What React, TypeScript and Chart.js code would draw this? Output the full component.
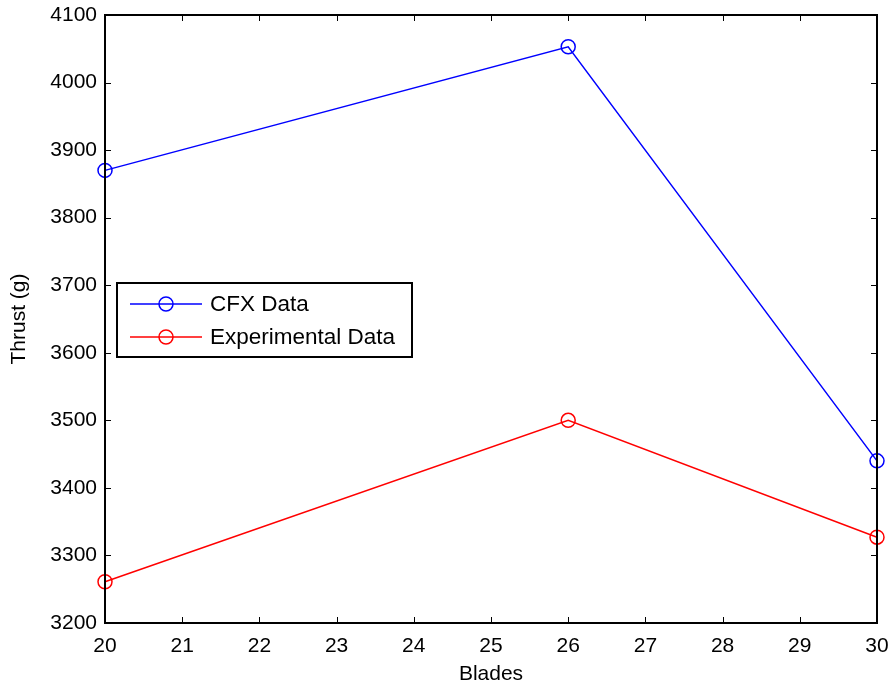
import React, { useEffect, useRef } from "react";
import { Chart, registerables } from "chart.js";

Chart.register(...registerables);

const blades = [20, 26, 30];
const cfxData = [3870, 4053, 3440];
const expData = [3261, 3500, 3327];
const seriesNames = ["CFX Data", "Experimental Data"];
const seriesColors = ["#0000ff", "#ff0000"];
const xTitle = "Blades";
const yTitle = "Thrust (g)";

const FONT = "'Liberation Sans', Arial, Helvetica, sans-serif";

const boxPlugin = {
  id: "matlabBox",
  afterDraw(chart: any) {
    const ctx = chart.ctx;
    const { left, right, top, bottom } = chart.chartArea;
    const xs = chart.scales.x;
    const ys = chart.scales.y;
    ctx.save();
    ctx.strokeStyle = "#000";
    ctx.lineWidth = 2;
    ctx.strokeRect(left, top, right - left, bottom - top);
    ctx.lineWidth = 1;
    const tl = 6;
    ctx.beginPath();
    xs.ticks.forEach((t: any) => {
      const px = Math.round(xs.getPixelForValue(t.value)) + 0.5;
      ctx.moveTo(px, bottom);
      ctx.lineTo(px, bottom - tl);
      ctx.moveTo(px, top);
      ctx.lineTo(px, top + tl);
    });
    ys.ticks.forEach((t: any) => {
      const py = Math.round(ys.getPixelForValue(t.value)) + 0.5;
      ctx.moveTo(left, py);
      ctx.lineTo(left + tl, py);
      ctx.moveTo(right, py);
      ctx.lineTo(right - tl, py);
    });
    ctx.stroke();

    // legend
    const lx = left + 12;
    const ly = top + 268;
    const lw = 295;
    const lh = 74;
    ctx.fillStyle = "#fff";
    ctx.fillRect(lx, ly, lw, lh);
    ctx.lineWidth = 2;
    ctx.strokeStyle = "#000";
    ctx.strokeRect(lx, ly, lw, lh);
    ctx.font = "22.5px " + FONT;
    ctx.textBaseline = "middle";
    ctx.textAlign = "left";
    seriesNames.forEach((name, i) => {
      const cy = ly + 21 + i * 33;
      ctx.strokeStyle = seriesColors[i];
      ctx.lineWidth = 1.5;
      ctx.beginPath();
      ctx.moveTo(lx + 13, cy);
      ctx.lineTo(lx + 85, cy);
      ctx.stroke();
      ctx.beginPath();
      ctx.arc(lx + 49, cy, 7, 0, Math.PI * 2);
      ctx.stroke();
      ctx.fillStyle = "#000";
      ctx.fillText(name, lx + 93, cy + 1);
    });
    ctx.restore();
  },
};

export default function App() {
  const ref = useRef<HTMLCanvasElement>(null);
  useEffect(() => {
    document.body.style.margin = "0";
    const canvas = ref.current!;
    const mk = (data: number[], color: string, label: string) => ({
      label,
      data: blades.map((b, i) => ({ x: b, y: data[i] })),
      borderColor: color,
      backgroundColor: "rgba(0,0,0,0)",
      borderWidth: 1.5,
      pointRadius: 7,
      pointBorderWidth: 1.5,
      pointStyle: "circle",
      pointBackgroundColor: "rgba(0,0,0,0)",
      pointBorderColor: color,
      tension: 0,
      clip: false as any,
    });
    const chart = new Chart(canvas, {
      type: "line",
      data: {
        datasets: [
          mk(cfxData, seriesColors[0], seriesNames[0]),
          mk(expData, seriesColors[1], seriesNames[1]),
        ],
      },
      options: {
        animation: false,
        responsive: false,
        maintainAspectRatio: false,
        layout: { padding: { top: 15, right: 17, left: 0, bottom: 0 } },
        plugins: { legend: { display: false }, tooltip: { enabled: false } },
        scales: {
          x: {
            type: "linear",
            min: 20,
            max: 30,
            border: { display: false },
            grid: { display: false, drawTicks: false },
            ticks: {
              stepSize: 1,
              color: "#000",
              padding: 11,
              maxRotation: 0,
              font: { family: FONT, size: 21 },
              callback: (v: any) => String(v),
            },
            title: {
              display: true,
              text: xTitle,
              color: "#000",
              padding: { top: 0, bottom: 0 },
              font: { family: FONT, size: 21 },
            },
            afterFit: (s: any) => {
              s.height = 64;
              s.paddingLeft = 0;
              s.paddingRight = 0;
            },
          },
          y: {
            type: "linear",
            min: 3200,
            max: 4100,
            border: { display: false },
            grid: { display: false, drawTicks: false },
            ticks: {
              stepSize: 100,
              color: "#000",
              padding: 8,
              font: { family: FONT, size: 21 },
              callback: (v: any) => String(v),
            },
            title: {
              display: true,
              text: yTitle,
              color: "#000",
              padding: { top: 7, bottom: 0 },
              font: { family: FONT, size: 21 },
            },
            afterFit: (s: any) => {
              s.width = 105;
              s.paddingTop = 0;
              s.paddingBottom = 0;
            },
          },
        },
      },
      plugins: [boxPlugin],
    });
    return () => chart.destroy();
  }, []);
  return (
    <div style={{ width: 894, height: 687, background: "#fff" }}>
      <canvas ref={ref} width={894} height={687} style={{ display: "block" }} />
    </div>
  );
}
